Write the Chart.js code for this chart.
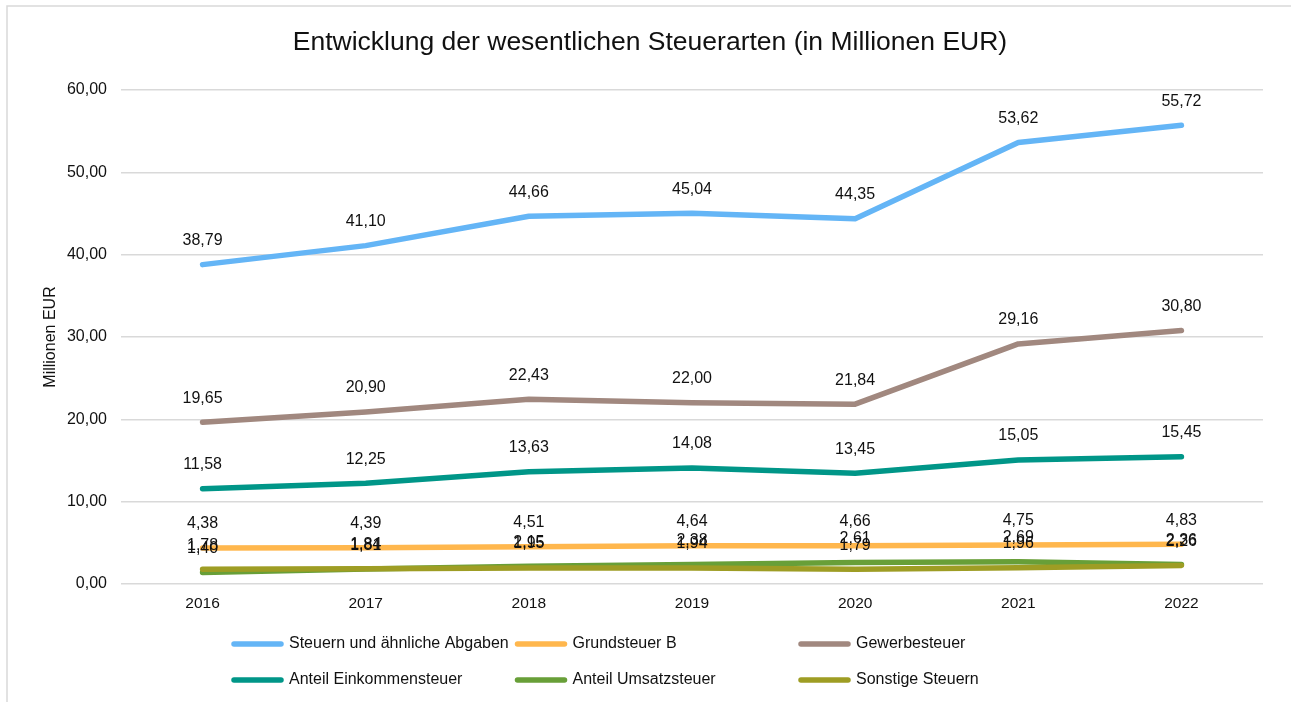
<!DOCTYPE html>
<html>
<head>
<meta charset="utf-8">
<script src="https://cdn.jsdelivr.net/npm/chart.js@4"></script>
<style>
body{margin:0;background:#fff}
#wrap{position:relative;width:1291px;height:702px}
</style>
</head>
<body>
<div id="wrap"><canvas id="grafico"></canvas></div>
<script>
// Werte
let jahre=['2016','2017','2018','2019','2020','2021','2022']
let steuernGesamt=[38.79,41.10,44.66,45.04,44.35,53.62,55.72]
let grundsteuerB=[4.38,4.39,4.51,4.64,4.66,4.75,4.83]
let gewerbesteuer=[19.65,20.90,22.43,22.00,21.84,29.16,30.80]
let einkommensteuer=[11.58,12.25,13.63,14.08,13.45,15.05,15.45]
let umsatzsteuer=[1.40,1.81,2.15,2.38,2.61,2.69,2.36]
let sonstigeSteuern=[1.78,1.84,1.95,1.94,1.79,1.96,2.26]
let yTicks=[0,10,20,30,40,50,60]

let schrift='"Liberation Sans", Arial, sans-serif'

let reihen=[
{label:'Steuern und ähnliche Abgaben',data:steuernGesamt,farbe:'#64b5f6'},
{label:'Grundsteuer B',data:grundsteuerB,farbe:'#ffb74d'},
{label:'Gewerbesteuer',data:gewerbesteuer,farbe:'#a1887f'},
{label:'Anteil Einkommensteuer',data:einkommensteuer,farbe:'#009688'},
{label:'Anteil Umsatzsteuer',data:umsatzsteuer,farbe:'#689f38'},
{label:'Sonstige Steuern',data:sonstigeSteuern,farbe:'#9e9d24'}
]

function fmt(v){
return v.toFixed(2).replace('.',',')
}

// Rahmen um das Diagramm
let rahmenPlugin={
id:'rahmen',
beforeDraw(chart){
let c=chart.ctx
c.save()
c.fillStyle='#fff'
c.fillRect(0,0,chart.width,chart.height)
c.strokeStyle='#d9d9d9'
c.lineWidth=1.5
c.strokeRect(7,6,chart.width,chart.height)
c.restore()
}
}

// Werte ueber den Punkten
let wertePlugin={
id:'werte',
afterDatasetsDraw(chart){
let c=chart.ctx
c.save()
c.font='16px '+schrift
c.fillStyle='#111'
c.textAlign='center'
c.textBaseline='middle'
chart.data.datasets.forEach((ds,i)=>{
let meta=chart.getDatasetMeta(i)
meta.data.forEach((p,j)=>{
c.fillText(fmt(ds.data[j]),p.x,p.y-24)
})
})
c.restore()
}
}

// Legende in drei Spalten
let legendePlugin={
id:'legende',
afterDraw(chart){
let c=chart.ctx
c.save()
c.font='16px '+schrift
c.textBaseline='middle'
c.textAlign='left'
chart.data.datasets.forEach((ds,i)=>{
let x=231+(i%3)*283.5
let y=644+Math.floor(i/3)*36
c.strokeStyle=ds.borderColor
c.lineWidth=5.5
c.lineCap='round'
c.beginPath()
c.moveTo(x+3,y)
c.lineTo(x+50,y)
c.stroke()
c.fillStyle='#111'
c.fillText(ds.label,x+58,y)
})
c.restore()
}
}

new Chart(document.getElementById('grafico'),{
type:'line',
data:{
labels:jahre,
datasets:reihen.map((r,i)=>({
label:r.label,
data:r.data,
borderColor:r.farbe,
backgroundColor:r.farbe,
borderWidth:5.5,
borderCapStyle:'round',
borderJoinStyle:'round',
pointRadius:0,
tension:0,
order:reihen.length-i
}))
},
options:{
responsive:true,
maintainAspectRatio:false,
animation:false,
layout:{padding:{left:37,top:6,right:28,bottom:88}},
plugins:{
legend:{display:false},
tooltip:{enabled:false},
title:{
display:true,
text:'Entwicklung der wesentlichen Steuerarten (in Millionen EUR)',
color:'#111',
font:{family:schrift,size:26.5,weight:'normal',lineHeight:1.2},
padding:{top:21,bottom:31.2}
}
},
scales:{
x:{
offset:true,
grid:{display:false,drawTicks:false,offset:true},
border:{display:false},
ticks:{color:'#111',padding:10,font:{family:schrift,size:15.5}},
afterFit(s){s.height=30}
},
y:{
min:0,
max:60,
afterBuildTicks(s){s.ticks=yTicks.map(v=>({value:v}))},
grid:{color:'#d9d9d9',lineWidth:1.5,drawTicks:false},
border:{display:false},
ticks:{color:'#111',padding:14,font:{family:schrift,size:16},callback:v=>fmt(v)},
title:{display:true,text:'Millionen EUR',color:'#111',font:{family:schrift,size:16},padding:{top:4,bottom:0}},
afterFit(s){s.width=84}
}
}
},
plugins:[rahmenPlugin,wertePlugin,legendePlugin]
})
</script>
</body>
</html>
